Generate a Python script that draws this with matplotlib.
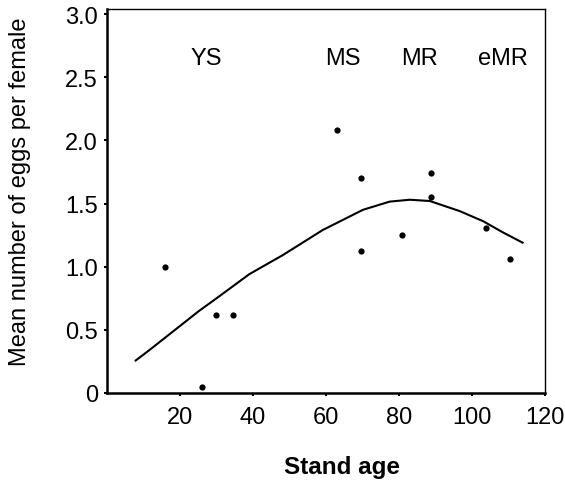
import matplotlib.pyplot as plt

plt.rcParams['font.family'] = ['Liberation Sans', 'DejaVu Sans']

# observed means per stand
stand_age = [16, 26, 30, 34.5, 63, 69.7, 69.7, 80.7, 88.7, 88.7, 103.8, 110.4]
eggs = [1.0, 0.05, 0.615, 0.615, 2.08, 1.70, 1.12, 1.25, 1.74, 1.55, 1.31, 1.06]

# fitted curve
curve_x = [7.9, 11.5, 25.3, 29.8, 39.0, 48.1, 59.1, 70.1, 77.4, 82.9, 88.4, 96.6, 103.0, 108.5, 113.8]
curve_y = [0.256, 0.335, 0.65, 0.744, 0.94, 1.09, 1.29, 1.45, 1.515, 1.53, 1.52, 1.44, 1.36, 1.27, 1.19]

stages = ['YS', 'MS', 'MR', 'eMR']
stage_x = [27.3, 64.7, 85.5, 108.5]

xticks = [20, 40, 60, 80, 100, 120]
yticks = [0, 0.5, 1.0, 1.5, 2.0, 2.5, 3.0]
ytick_labels = ['0', '0.5', '1.0', '1.5', '2.0', '2.5', '3.0']

fig = plt.figure(figsize=(5.65, 4.85), dpi=100)
ax = fig.add_axes([0.189, 0.188, 0.776, 0.791])

ax.plot(curve_x, curve_y, color='black', lw=1.5)
ax.plot(stand_age, eggs, 'o', color='black', ms=4.5, mec='none')

for s, x in zip(stages, stage_x):
    ax.text(x, 2.65, s, ha='center', va='center', fontsize=17)

ax.set_xlim(0, 120)
ax.set_ylim(0, 3.04)
ax.set_xticks(xticks)
ax.set_yticks(yticks)
ax.set_yticklabels(ytick_labels)
ax.tick_params(labelsize=17, length=2.5, width=1.5, direction='out')
ax.tick_params(axis='x', pad=7)
ax.tick_params(axis='y', pad=4)

ax.spines['left'].set_linewidth(1.8)
ax.spines['bottom'].set_linewidth(1.8)
ax.spines['top'].set_linewidth(1.0)
ax.spines['right'].set_linewidth(1.0)

ax.set_xlabel('Stand age', fontsize=17.5, fontweight='bold')
ax.xaxis.set_label_coords(0.537, -0.162)
ax.set_ylabel('Mean number of eggs per female', fontsize=17)
ax.yaxis.set_label_coords(-0.172, 0.526)

fig.savefig('out.png', dpi=100)
